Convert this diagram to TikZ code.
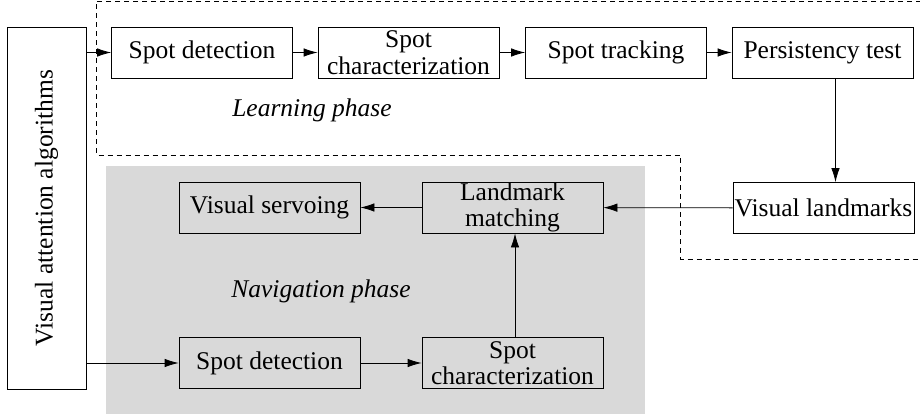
\documentclass[tikz,border=0pt]{standalone}
\usepackage{fontspec}
\setmainfont{Liberation Serif}
\usetikzlibrary{arrows.meta}
\usetikzlibrary{positioning}
\tikzset{blk/.style = {draw, line width = 0.8pt, inner sep = 0, align = center,
                       minimum width = 181pt, minimum height = 51pt,
                       font = \fontsize{25.5}{26.5}\selectfont}}
\tikzset{arr/.style = {line width = 0.8pt, -{Latex[length=14pt, width=8.5pt]}}}
\tikzset{phase/.style = {inner sep = 0, font = \fontsize{25.5}{28}\selectfont\itshape}}
\definecolor{navgray}{rgb}{0.85, 0.85, 0.85}

\begin{document}
\begin{tikzpicture}[x=1pt, y=-1pt]
      \useasboundingbox (0, 0) rectangle (920, 417);
      % navigation phase background
      \fill [navgray] (106, 166) rectangle (645, 414);
      % learning phase outline
      \draw [line width=0.8pt, dash pattern=on 5pt off 4pt]
        (921, 1.5) -- (96, 1.5) -- (96, 155) -- (680, 155) -- (680, 259) -- (921, 259);

      \node [blk, minimum width = 79pt, minimum height = 362pt] (va) at (46.5, 208)
        {\rotatebox{90}{Visual attention algorithms}};

      \node [blk] (sd1) at (202, 52.5) {Spot detection};
      \node [blk] (sc1) at (408.5, 52.5) {Spot\\characterization};
      \node [blk] (st) at (616, 52.5) {Spot tracking};
      \node [blk] (pt) at (822.5, 52.5) {Persistency test};
      \node [blk] (vl) at (823.5, 208) {Visual landmarks};

      \node [blk] (vs) at (269.5, 207.5) {Visual servoing};
      \node [blk] (lm) at (512.5, 207.5) {Landmark\\matching};
      \node [blk] (sd2) at (269.5, 363) {Spot detection};
      \node [blk] (sc2) at (512.5, 363) {Spot\\characterization};

      \node [phase] (lp) at (312, 110) {Learning phase};
      \node [phase] (np) at (321, 291) {Navigation phase};

      \draw [arr] (va.east |- sd1) -- (sd1);
      \draw [arr] (sd1) -- (sc1);
      \draw [arr] (sc1) -- (st);
      \draw [arr] (st) -- (pt);
      \draw [arr] ([xshift=13pt]pt.south) -- ([xshift=13pt]pt.south |- vl.north);
      \draw [arr] (vl) -- (lm);
      \draw [arr] (lm) -- (vs);

      \draw [arr] (va.east |- sd2) -- (sd2);
      \draw [arr] (sd2) -- (sc2);
      \draw [arr] ([xshift=2.5pt]sc2.north) -- ([xshift=2.5pt]lm.south);
    \end{tikzpicture}
\end{document}
